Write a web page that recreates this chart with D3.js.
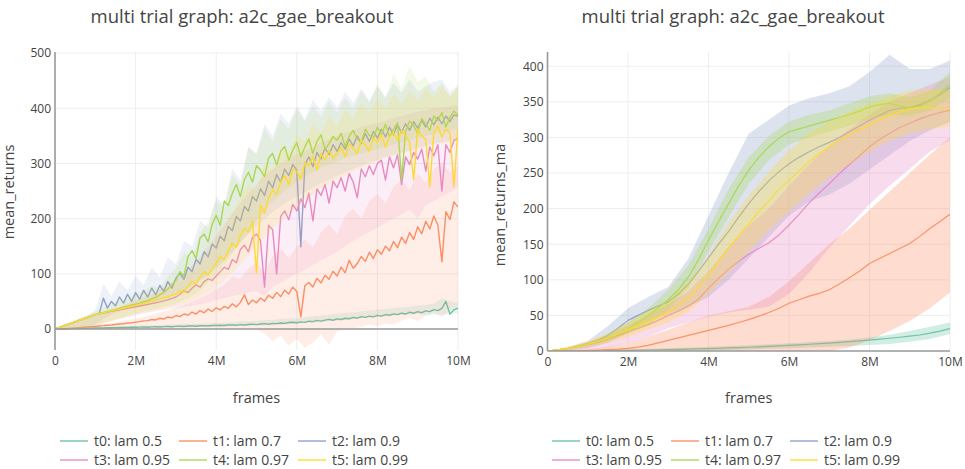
<!DOCTYPE html>
<html>
<head>
<meta charset="utf-8">
<script src="https://cdn.jsdelivr.net/npm/d3@7/dist/d3.min.js"></script>
<style>
  body { margin: 0; background: #fff; }
  svg { display: block; }
</style>
</head>
<body>
<svg id="chart" width="965" height="469"></svg>
<script>
// ---- trials and palette ----
const trialNames = ["t0: lam 0.5", "t1: lam 0.7", "t2: lam 0.9", "t3: lam 0.95", "t4: lam 0.97", "t5: lam 0.99"];
const trialColors = ["#66c2a5", "#fc8d62", "#8da0cb", "#e78ac3", "#a6d854", "#ffd92f"];

// ---- axis ticks ----
const frameTicks = [0, 2e6, 4e6, 6e6, 8e6, 1e7];
const frameTickLabels = ["0", "2M", "4M", "6M", "8M", "10M"];
const returnTicks = [0, 100, 200, 300, 400, 500];
const returnMaTicks = [0, 50, 100, 150, 200, 250, 300, 350, 400];
const maxFrames = 1e7;

// ---- mean_returns, sampled every 0.1M frames ----
const returnsT0 = [0,0.2,0.4,0.6,0.8,1,1.1,1.3,1.5,1.6,
  1.8,2,2.1,2.3,2.2,2.6,2.8,2.7,3,3.2,
  3.1,3.4,3.6,3.3,3.9,4.1,3.8,4.4,4.6,4.2,
  4.9,5.1,4.7,5.4,5.6,5,5.9,6.2,5.6,6.5,
  6.3,6.9,6.4,7.2,7.6,6.8,7.9,7.4,8.3,8.8,
  7.9,9.2,9.8,8.6,10.3,9.7,11,10.2,11.8,12.4,
  11.3,13,12.1,14.2,13.5,15.6,14.4,16.2,17.5,15.9,
  18.3,17.2,19.5,18.6,21,19.8,22.5,21.2,23.4,22.1,
  24.8,23.3,26.1,25,27.4,26,28.8,27.2,30.5,28.6,
  31.4,29.8,33,31.6,35.2,33.4,37.5,50,27,34.8,
  38];
const returnsT1 = [0,0.3,0.7,1.1,1.6,2.1,2.6,3.1,3.7,4.2,
  4.8,5.5,6.1,6.9,7.4,8.3,9,9.6,10.8,11.5,
  12.6,13.4,14.8,15.3,17.2,16.4,19.5,18.1,21.8,20.2,
  24.5,22.6,27.3,25.1,30.8,27.2,33.5,29.4,36.2,31.8,
  38.5,34.6,41.2,37.5,45.8,40.1,48.3,62,44.2,52.6,
  47.5,56.3,50.4,61.2,55.8,66.4,58.7,70.3,63.5,75.8,
  68.2,22,78.5,84.2,76.3,92.1,83.6,97.5,90.2,104.6,
  96.1,112.3,101.8,124.5,110.2,118.6,131.4,122.5,139.2,127.8,
  143.5,135.6,150.2,141.8,158.6,147.3,166.4,155.2,174.8,162.5,
  185.3,172.6,195.4,181.2,204.8,188.5,122,212.6,198.4,230.5,
  221];
const returnsT2 = [0,2.6,5.2,7.8,10.4,13,15.6,18.2,20.8,23.4,
  26,28.4,56,38,50,42,58,47,63,50,
  66,54,70,58,74,62,79,68,86,74,
  92,101,90,112,104,126,118,140,131,154,
  147,168,160,186,178,204,196,222,214,240,
  232,254,242,268,256,280,266,290,278,298,
  288,149,298,312,294,320,308,328,316,334,
  322,338,326,344,332,350,336,354,340,358,
  346,362,348,366,352,370,356,372,360,376,
  364,378,366,382,370,384,372,386,376,388,
  386];
const returnsT3 = [0,2.6,5.2,7.8,10.4,13,15.6,18.2,20.8,23.4,
  26,27.5,29,30.5,32,33.4,34.8,36.2,37.6,39,
  40.3,41.8,43.2,44.5,46,47.6,49.2,51,53.1,55.4,
  58,63,70,66,74,80,76,86,91,88,
  96,104,112,108,126,120,144,152,140,166,
  172,160,76,188,180,100,204,214,198,226,
  214,236,220,246,196,254,242,262,228,268,
  256,274,250,282,266,238,290,276,296,280,
  300,306,270,312,292,316,262,312,298,320,
  308,326,286,330,314,334,250,334,320,342,
  345];
const returnsT4 = [0,2.6,5.2,7.8,10.4,13,15.6,18.2,20.8,23.4,
  26,28.2,30.1,31.9,33.8,35.5,37.4,39.6,41.2,43.5,
  45.1,47,49.5,51.2,54.8,57.3,61.9,66.4,72.5,79.8,
  88,104,96,131,142,128,165,172,158,190,
  206,188,232,224,246,262,240,271,284,266,
  296,288,276,310,318,297,322,331,306,324,
  338,312,330,344,318,340,352,326,336,349,
  342,355,331,349,360,344,338,362,351,346,
  366,352,371,348,362,374,270,358,377,369,
  354,381,372,360,386,378,392,366,384,395,
  388];
const returnsT5 = [0,2.6,5.2,7.8,10.4,13,15.6,18.2,20.8,23.4,
  26,27.8,29.6,31.2,33,34.7,36.2,38,39.5,41.2,
  42.8,44.6,46.3,48.2,50.1,52.5,54.2,56.8,58.3,61.5,
  63,70,66,78,86,82,95,104,98,110,
  120,131,126,142,156,148,170,182,176,196,
  102,224,210,238,252,244,266,278,262,289,
  286,272,301,296,312,288,318,306,324,310,
  318,330,312,336,328,318,342,333,322,346,
  338,352,330,348,356,342,360,351,338,270,
  362,350,344,258,356,368,348,362,355,258,
  364];

// ---- mean_returns spread across sessions, sampled every 0.2M frames ----
const returnsLoT0 = [0,0,0,0,0,0.5,0.8,1,1.2,1.5, 1.8,2,2.2,2.5,2.8,3,3.2,3.5,3.8,4, 4.4,4.6,5,5.2,5.5,6,6.5,7,7.8,8.5, 9.5,10.5,11.5,12.5,14,15,16.5,18,19.5,20.5, 22,23,24.5,26,26.5,28,24,26,26,27,28];
const returnsHiT0 = [0,1,2,2.5,3,3.5,4,4.5,5,5.5, 6,6.5,7,7.5,8,8.5,9,9.5,10,10.5, 11,12,12.5,13.5,14,15,16,17,18,19, 20,21.5,23,24.5,26,27.5,29,30.5,32,33.5, 35,36.5,38,39.5,41,42.5,44,46,56,50,48];
const returnsLoT1 = [0,0,0,0,0,0,0,0,0,0, 0,0,0,0,0,0,0,0,0,0, 0,0,0,0,0,0,-8,-22,-12,-30, -18,-34,-25,-10,-28,-5,2,0,4,8, 5,10,8,15,20,14,25,30,22,35,40];
const returnsHiT1 = [0,1,2,3.5,5,7,9,11,13,16, 19,22,26,30,34,39,44,50,56,63, 72,80,96,90,110,120,102,132,146,128, 150,162,148,175,190,172,205,218,200,232, 245,228,258,270,252,282,265,290,300,284,296];
const returnsLoT2 = [0,0,0,0,0,8,18,26,32,36, 40,44,48,52,56,62,70,78,88,98, 110,124,140,156,172,186,200,212,222,232, 240,248,256,264,270,278,284,290,296,302, 306,312,316,320,324,328,332,336,338,342,344];
const returnsHiT2 = [0,6,12,18,24,34,82,60,86,70, 96,80,112,94,130,118,160,150,196,184, 240,226,290,270,330,318,372,350,390,372, 404,380,416,396,420,402,430,410,436,414, 440,420,446,428,452,430,440,448,452,430,442];
const returnsLoT3 = [0,0,0,0,0,5,10,14,18,22, 25,28,31,34,36,38,40,42,45,48, 52,56,60,62,66,68,60,76,84,92, 100,108,116,124,132,140,150,160,168,176, 184,192,200,208,216,200,224,232,240,248,256];
const returnsHiT3 = [0,5,10,15,20,25,30,35,40,46, 52,58,64,72,80,90,102,116,132,150, 170,190,210,228,246,262,278,290,300,310, 316,324,330,338,344,350,356,360,366,370, 374,378,382,386,390,394,396,400,402,404,406];
const returnsLoT4 = [0,0,0,0,0,8,12,16,20,24, 28,32,35,38,42,46,52,60,70,84, 100,118,136,156,176,196,214,230,244,256, 266,276,284,292,298,304,310,314,318,322, 326,330,334,338,342,346,350,354,356,360,362];
const returnsHiT4 = [0,8,14,20,26,32,38,44,50,56, 62,70,78,74,96,110,138,130,174,196, 232,220,280,262,330,316,364,340,380,362, 398,376,404,384,412,392,420,398,432,410, 444,418,462,436,476,448,458,430,446,420,440];
const returnsLoT5 = [0,0,0,0,0,6,10,14,18,22, 26,29,32,35,38,42,46,52,58,66, 76,88,102,118,134,150,166,182,196,210, 222,234,244,254,262,270,278,286,292,298, 304,310,314,318,322,326,330,334,336,338,340];
const returnsHiT5 = [0,6,11,16,21,26,31,36,41,46, 51,56,62,68,76,84,94,104,120,140, 164,186,212,236,262,250,300,288,330,318, 352,340,372,356,386,368,398,380,410,392, 418,400,426,408,432,414,436,418,440,424,436];

// ---- mean_returns_ma, sampled every 0.25M frames ----
const returnsMaT0 = [0,0.1,0.2,0.3,0.4,0.5,0.6,0.8,1,1.2, 1.4,1.7,2,2.3,2.6,3,3.4,3.8,4.3,4.8, 5.3,5.9,6.5,7.2,8,8.7,9.5,10.3,11.2,12.1, 13.1,14.2,15.4,16.6,17.9,19.3,20.8,22.5,25,28, 31.5];
const returnsMaT1 = [0,0.1,0.3,0.5,0.8,1.2,1.8,2.6,3.8,5.5, 8,11.5,15,18.5,22,25.5,29,32.5,36,40, 44,49,54,60,67,72,77,81,86,94, 103,112,123,130,137,144,151,161,172,182, 192];
const returnsMaT2 = [0,1.5,3.5,6.5,10,15,22,32,43,50, 57,63,69,80,94,112,131,150,168,188, 207,224,239,252,263,272,280,287,293,300, 308,316,324,331,338,341,342,346,352,360, 370];
const returnsMaT3 = [0,1.5,3.5,6,9,12.5,17,22,27,32, 37,43,50,56,63,73,88,102,115,126, 136,144,152,163,177,192,208,222,235,249, 262,274,287,297,306,314,320,326,331,335, 338];
const returnsMaT4 = [0,1.5,3.5,6,9.5,13.5,18.5,24.5,31,40, 50,60,72,86,104,128,156,182,207,232, 254,272,287,299,308,312,316,320,324,328, 332,337,343,346,348,344,342,344,351,362, 374];
const returnsMaT5 = [0,1.5,3.5,6,9.5,13.5,18,24,30,36, 42,48,55,65,75,90,107,126,145,162, 178,196,211,227,240,253,266,277,287,296, 304,311,318,325,331,336,340,342,342,341, 340];

// ---- mean_returns_ma spread, sampled every 0.5M frames ----
const returnsMaLoT0 = [0,0,0,0,0,0,0,0.5,1,1.5,2,3,4,5,6,7,8.5,10,13,17,24];
const returnsMaHiT0 = [0,0.5,1,1.5,2,3,4,5,6,7,8,9.5,11,12.5,14,16,19,23,28,34,40];
const returnsMaLoT1 = [0,0,0,0,0,0,0,0,0,0,0,0,0,0,0,5,15,28,42,60,82];
const returnsMaHiT1 = [0,0.5,2,6,12,20,30,40,50,56,62,76,98,124,150,172,198,224,250,276,300];
const returnsMaLoT2 = [0,1,4,12,26,40,52,62,76,100,130,160,190,210,220,235,255,275,295,310,322];
const returnsMaHiT2 = [0,5,14,35,60,76,90,130,190,250,305,325,345,355,362,372,392,416,396,396,408];
const returnsMaLoT3 = [0,0.5,2,5,12,20,32,40,48,54,58,62,80,110,145,176,206,232,256,280,296];
const returnsMaHiT3 = [0,5,12,22,36,50,66,84,112,146,176,200,232,262,288,312,332,350,362,374,385];
const returnsMaLoT4 = [0,2,7,14,24,36,58,90,140,188,235,268,290,300,308,316,326,332,330,338,356];
const returnsMaHiT4 = [0,5,12,23,40,60,86,120,172,228,272,302,322,332,338,348,358,362,356,366,392];
const returnsMaLoT5 = [0,1,5,11,20,30,40,55,80,110,140,170,196,222,244,262,280,296,306,312,316];
const returnsMaHiT5 = [0,6,14,25,40,56,72,98,135,180,218,252,282,306,322,336,348,358,366,368,366];

// ---- drawing ----
const FONT = '"Open Sans", verdana, arial, sans-serif';
const TEXT = "#444";
const svg = d3.select("#chart");

function drawPanel(o) {
  const g = svg.append("g");
  const x = d3.scaleLinear().domain([0, maxFrames]).range([o.left, o.right]);
  const y = d3.scaleLinear().domain(o.yDomain).range([o.bottom, o.top]);

  // grid
  g.append("g").selectAll("line").data(frameTicks.slice(1)).join("line")
    .attr("x1", d => x(d)).attr("x2", d => x(d))
    .attr("y1", o.top).attr("y2", o.bottom)
    .attr("stroke", "#eee").attr("stroke-width", 1);
  g.append("g").selectAll("line").data(o.yTicks.filter(d => d !== 0)).join("line")
    .attr("x1", o.left).attr("x2", o.right)
    .attr("y1", d => y(d)).attr("y2", d => y(d))
    .attr("stroke", "#eee").attr("stroke-width", 1);

  // traces, clipped to the plot area
  svg.append("clipPath").attr("id", o.id + "-clip")
    .append("rect").attr("x", o.left).attr("y", o.top)
    .attr("width", o.right - o.left).attr("height", o.bottom - o.top);
  const plot = g.append("g").attr("clip-path", `url(#${o.id}-clip)`);

  o.series.forEach((s, i) => {
    const bandStep = maxFrames / (s.lo.length - 1);
    const band = d3.area()
      .x((d, j) => x(j * bandStep))
      .y0((d, j) => y(s.lo[j]))
      .y1(d => y(d));
    plot.append("path").datum(s.hi).attr("d", band)
      .attr("fill", trialColors[i]).attr("fill-opacity", o.bandOpacity)
      .attr("stroke", "none");

    const lineStep = maxFrames / (s.mean.length - 1);
    const line = d3.line().x((d, j) => x(j * lineStep)).y(d => y(d));
    plot.append("path").datum(s.mean).attr("d", line)
      .attr("fill", "none").attr("stroke", trialColors[i])
      .attr("stroke-width", o.lineWidth).attr("stroke-linejoin", "round")
      .attr("stroke-opacity", o.lineOpacity);
  });

  // axis lines
  g.append("line").attr("x1", o.left).attr("x2", o.left)
    .attr("y1", o.top).attr("y2", o.bottom)
    .attr("stroke", "#999").attr("stroke-width", 1.6);
  g.append("line").attr("x1", o.left).attr("x2", o.right)
    .attr("y1", y(0)).attr("y2", y(0))
    .attr("stroke", "#999").attr("stroke-width", 1.6);

  // tick labels
  const xAxis = g.append("g").attr("transform", `translate(0,${o.bottom})`)
    .call(d3.axisBottom(x).tickValues(frameTicks)
      .tickFormat((d, i) => frameTickLabels[i]).tickSize(0).tickPadding(6));
  const yAxis = g.append("g").attr("transform", `translate(${o.left},0)`)
    .call(d3.axisLeft(y).tickValues(o.yTicks).tickFormat(d3.format("d"))
      .tickSize(0).tickPadding(4));
  [xAxis, yAxis].forEach(a => {
    a.select(".domain").remove();
    a.selectAll("text").attr("fill", TEXT).style("font-family", FONT).style("font-size", "12px");
  });

  // titles
  g.append("text").attr("x", o.titleX).attr("y", 23).attr("text-anchor", "middle")
    .attr("fill", TEXT).style("font-family", FONT).style("font-size", "18.5px")
    .text(o.title);
  g.append("text").attr("x", (o.left + o.right) / 2).attr("y", 403).attr("text-anchor", "middle")
    .attr("fill", TEXT).style("font-family", FONT).style("font-size", "14.5px")
    .text("frames");
  g.append("text")
    .attr("transform", `translate(${o.yTitleX},${o.yTitleY}) rotate(-90)`)
    .attr("text-anchor", "middle")
    .attr("fill", TEXT).style("font-family", FONT).style("font-size", "14.5px")
    .text(o.yTitle);

  // legend: three entries per row
  const lg = g.append("g");
  trialNames.forEach((name, i) => {
    const lx = o.legendX + (i % 3) * 119;
    const ly = 441 + Math.floor(i / 3) * 19;
    lg.append("line").attr("x1", lx).attr("x2", lx + 28).attr("y1", ly).attr("y2", ly)
      .attr("stroke", trialColors[i]).attr("stroke-width", 1.6).attr("stroke-opacity", 0.85);
    lg.append("text").attr("x", lx + 34).attr("y", ly + 5)
      .attr("fill", TEXT).style("font-family", FONT).style("font-size", "14px")
      .text(name);
  });
}

drawPanel({
  id: "raw", title: "multi trial graph: a2c_gae_breakout", titleX: 242,
  yTitle: "mean_returns", yTitleX: 14, yTitleY: 192,
  left: 55, right: 458, top: 52, bottom: 350, yDomain: [-38, 502], yTicks: returnTicks,
  bandOpacity: 0.15, lineWidth: 1.4, lineOpacity: 1, legendX: 60,
  series: [
    { mean: returnsT0, lo: returnsLoT0, hi: returnsHiT0 },
    { mean: returnsT1, lo: returnsLoT1, hi: returnsHiT1 },
    { mean: returnsT2, lo: returnsLoT2, hi: returnsHiT2 },
    { mean: returnsT3, lo: returnsLoT3, hi: returnsHiT3 },
    { mean: returnsT4, lo: returnsLoT4, hi: returnsHiT4 },
    { mean: returnsT5, lo: returnsLoT5, hi: returnsHiT5 }
  ]
});

drawPanel({
  id: "ma", title: "multi trial graph: a2c_gae_breakout", titleX: 733,
  yTitle: "mean_returns_ma", yTitleX: 505, yTitleY: 205,
  left: 547.5, right: 950, top: 52, bottom: 351, yDomain: [0, 420], yTicks: returnMaTicks,
  bandOpacity: 0.3, lineWidth: 1.2, lineOpacity: 0.95, legendX: 552,
  series: [
    { mean: returnsMaT0, lo: returnsMaLoT0, hi: returnsMaHiT0 },
    { mean: returnsMaT1, lo: returnsMaLoT1, hi: returnsMaHiT1 },
    { mean: returnsMaT2, lo: returnsMaLoT2, hi: returnsMaHiT2 },
    { mean: returnsMaT3, lo: returnsMaLoT3, hi: returnsMaHiT3 },
    { mean: returnsMaT4, lo: returnsMaLoT4, hi: returnsMaHiT4 },
    { mean: returnsMaT5, lo: returnsMaLoT5, hi: returnsMaHiT5 }
  ]
});
</script>
</body>
</html>
